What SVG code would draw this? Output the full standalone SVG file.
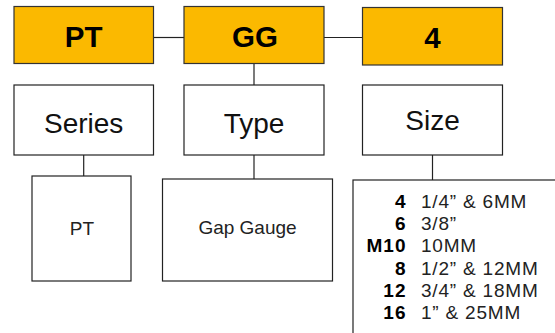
<svg xmlns="http://www.w3.org/2000/svg" width="555" height="333" viewBox="0 0 555 333">
<style>
.hdr{fill:#FBB900;stroke:#333;stroke-width:1.2}
.box{fill:#fff;stroke:#222;stroke-width:1.2}
.ln{stroke:#222;stroke-width:1.2;fill:none}
.bt{font-family:"Liberation Sans",Arial,sans-serif;font-weight:bold;font-size:29.5px;fill:#000;text-anchor:middle}
.lt{font-family:"Liberation Sans",Arial,sans-serif;font-size:28px;fill:#111;text-anchor:middle}
.st{font-family:"Liberation Sans",Arial,sans-serif;font-size:19px;fill:#222;text-anchor:middle}
.num{font-family:"Liberation Sans",Arial,sans-serif;font-weight:bold;font-size:19px;letter-spacing:1px;fill:#000;text-anchor:end}
.val{font-family:"Liberation Sans",Arial,sans-serif;font-size:19px;letter-spacing:0.8px;fill:#222}
</style>
<g id="connectors">
<line class="ln" x1="153.5" y1="37.5" x2="184" y2="37.5"/>
<line class="ln" x1="324" y1="37.5" x2="362.5" y2="37.5"/>
<line class="ln" x1="254" y1="63.5" x2="254" y2="85"/>
<line class="ln" x1="83.7" y1="155" x2="83.7" y2="176"/>
<line class="ln" x1="254" y1="155" x2="254" y2="179"/>
<line class="ln" x1="432.5" y1="155" x2="432.5" y2="180"/>
</g>
<g id="code-pt"><rect class="hdr" x="14" y="6.5" width="139.5" height="57"/><text class="bt" x="83.7" y="47">PT</text></g>
<g id="code-gg"><rect class="hdr" x="184" y="6.5" width="140" height="57"/><text class="bt" x="255" y="47">GG</text></g>
<g id="code-4"><rect class="hdr" x="362.5" y="7.5" width="140" height="57.5"/><text class="bt" x="432.5" y="48">4</text></g>
<g id="series"><rect class="box" x="14" y="85" width="139.5" height="70"/><text class="lt" x="83.7" y="132.5">Series</text></g>
<g id="type"><rect class="box" x="184" y="85" width="140" height="70"/><text class="lt" x="254" y="132.5">Type</text></g>
<g id="size"><rect class="box" x="362.5" y="85" width="140" height="70"/><text class="lt" x="432.5" y="129.5">Size</text></g>
<g id="series-pt"><rect class="box" x="32" y="176" width="99" height="105"/><text class="st" x="82" y="235">PT</text></g>
<g id="type-gap"><rect class="box" x="162.5" y="179" width="170" height="102"/><text class="st" x="247.5" y="234">Gap Gauge</text></g>
<g id="size-list">
<rect class="box" x="353" y="180" width="260" height="200"/>
<text class="num" x="406.5" y="208">4</text><text class="val" x="421" y="208">1/4”  &amp; 6MM</text>
<text class="num" x="406.5" y="230.2">6</text><text class="val" x="421" y="230.2">3/8”</text>
<text class="num" x="406.5" y="252.4">M10</text><text class="val" x="421" y="252.4">10MM</text>
<text class="num" x="406.5" y="274.6">8</text><text class="val" x="421" y="274.6">1/2” &amp; 12MM</text>
<text class="num" x="406.5" y="296.8">12</text><text class="val" x="421" y="296.8">3/4” &amp; 18MM</text>
<text class="num" x="406.5" y="319">16</text><text class="val" x="421" y="319">1”  &amp; 25MM</text>
</g>
</svg>
